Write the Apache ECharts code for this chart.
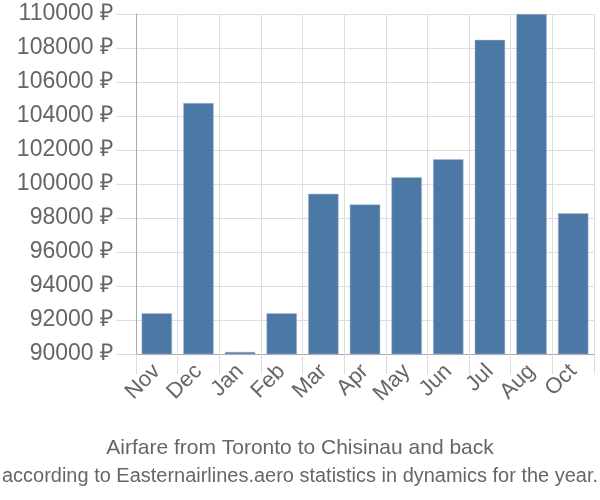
<!DOCTYPE html>
<html>
<head>
<meta charset="utf-8">
<script src="https://cdn.jsdelivr.net/npm/echarts@6/dist/echarts.min.js"></script>
<style>html,body{margin:0;padding:0;background:#fff}#c{width:600px;height:500px}</style>
</head>
<body>
<div id="c"></div>
<script>
const months = ["Nov","Dec","Jan","Feb","Mar","Apr","May","Jun","Jul","Aug","Oct"];
const prices = [92400, 104760, 90120, 92400, 99420, 98800, 100400, 101460, 108480, 110000, 98280];
const yMin = 90000, yMax = 110000, yStep = 2000;
const titleText = "Airfare from Toronto to Chisinau and back";
const subText = "according to Easternairlines.aero statistics in dynamics for the year.";

// horizontal condensation for the subtitle (narrow font look)
const cv = document.createElement('canvas').getContext('2d');
cv.font = '20px "Liberation Sans"';
const subW = cv.measureText(subText).width;
const subScale = 596 / subW;

const chart = echarts.init(document.getElementById('c'), null, {renderer:'canvas'});
chart.setOption({
  animation:false,
  title:[
    {text:titleText, left:'center', top:433, textStyle:{fontFamily:'Liberation Sans', fontSize:21, fontWeight:'normal', color:'#666'}}
  ],
  graphic:[
    {type:'text', x:300, y:476, scaleX:subScale, originX:0, style:{text:subText, x:0, y:0, align:'center', verticalAlign:'middle', fontFamily:'Liberation Sans', fontSize:20, fill:'#666'}}
  ],
  grid:{left:136, right:6, top:14, bottom:146},
  xAxis:{
    type:'category', data:months,
    axisLine:{lineStyle:{color:'#aaa', width:1}},
    axisTick:{show:true, length:20, lineStyle:{color:'#ddd'}},
    splitLine:{show:true, lineStyle:{color:'#ddd'}},
    axisLabel:{rotate:45, fontFamily:'Liberation Sans', fontSize:22, color:'#666', margin:14, interval:0}
  },
  yAxis:{
    type:'value', min:yMin, max:yMax, interval:yStep,
    axisLine:{show:true, lineStyle:{color:'#aaa'}},
    axisTick:{show:true, length:20, lineStyle:{color:'#ddd'}},
    splitLine:{show:true, lineStyle:{color:'#ddd'}},
    axisLabel:{formatter:v=>v+' ₽', fontFamily:'Liberation Sans', fontSize:23, color:'#666', margin:23}
  },
  series:[{
    type:'bar', data:prices, barCategoryGap:'27%',
    itemStyle:{color:'#4c78a6', borderColor:'#a8bcd4', borderWidth:0.5}
  }]
});
</script>
</body>
</html>
